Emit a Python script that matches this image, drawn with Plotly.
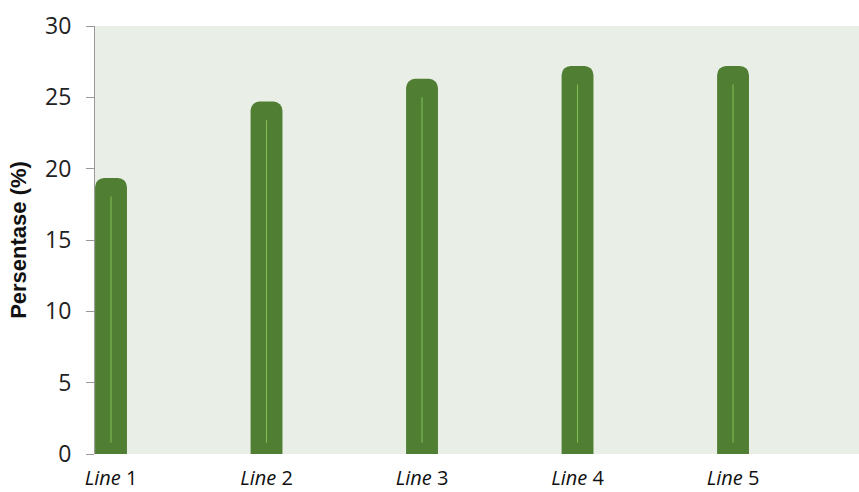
import plotly.graph_objects as go

categories = ["Line 1", "Line 2", "Line 3", "Line 4", "Line 5"]
values = [19.35, 24.7, 26.3, 27.2, 27.2]
y_ticks = [0, 5, 10, 15, 20, 25, 30]
tick_text = ["<i>Line</i> 1", "<i>Line</i> 2", "<i>Line</i> 3", "<i>Line</i> 4", "<i>Line</i> 5"]

xpos = list(range(len(categories)))

fig = go.Figure()
fig.add_trace(go.Bar(
    x=xpos, y=values, width=0.205,
    marker=dict(color="#507e32", cornerradius=9, line=dict(width=0)),
    hoverinfo="skip",
))
# highlight line inside each bar
lx, ly = [], []
for i, v in zip(xpos, values):
    lx += [i, i, None]
    ly += [0.8, v - 1.3, None]
fig.add_trace(go.Scatter(x=lx, y=ly, mode="lines",
                         line=dict(color="#86c15a", width=1), hoverinfo="skip"))

fig.update_layout(
    width=859, height=492,
    margin=dict(l=95, r=0, t=26, b=38),
    paper_bgcolor="white",
    plot_bgcolor="#e9efe7",
    showlegend=False,
    font=dict(family="Open Sans", color="#222222"),
)
fig.update_xaxes(
    range=[-0.103, 4.81], tickvals=xpos, ticktext=tick_text,
    showgrid=False, zeroline=False, showline=False, ticks="",
    tickfont=dict(size=20, family="Open Sans", color="#111111"),
    ticklabelstandoff=10, automargin=False,
)
fig.update_yaxes(
    range=[0, 30], tickvals=y_ticks, showgrid=False, zeroline=False,
    showline=True, linecolor="#999999", linewidth=1,
    ticks="outside", ticklen=8, tickcolor="#999999",
    tickfont=dict(size=23, family="Open Sans", color="#222222"),
    ticklabelstandoff=10,
    title=dict(text="<b>Persentase (%)</b>", font=dict(size=22, family="Liberation Sans", color="#111111"), standoff=12),
)
fig.write_html("out.html")
